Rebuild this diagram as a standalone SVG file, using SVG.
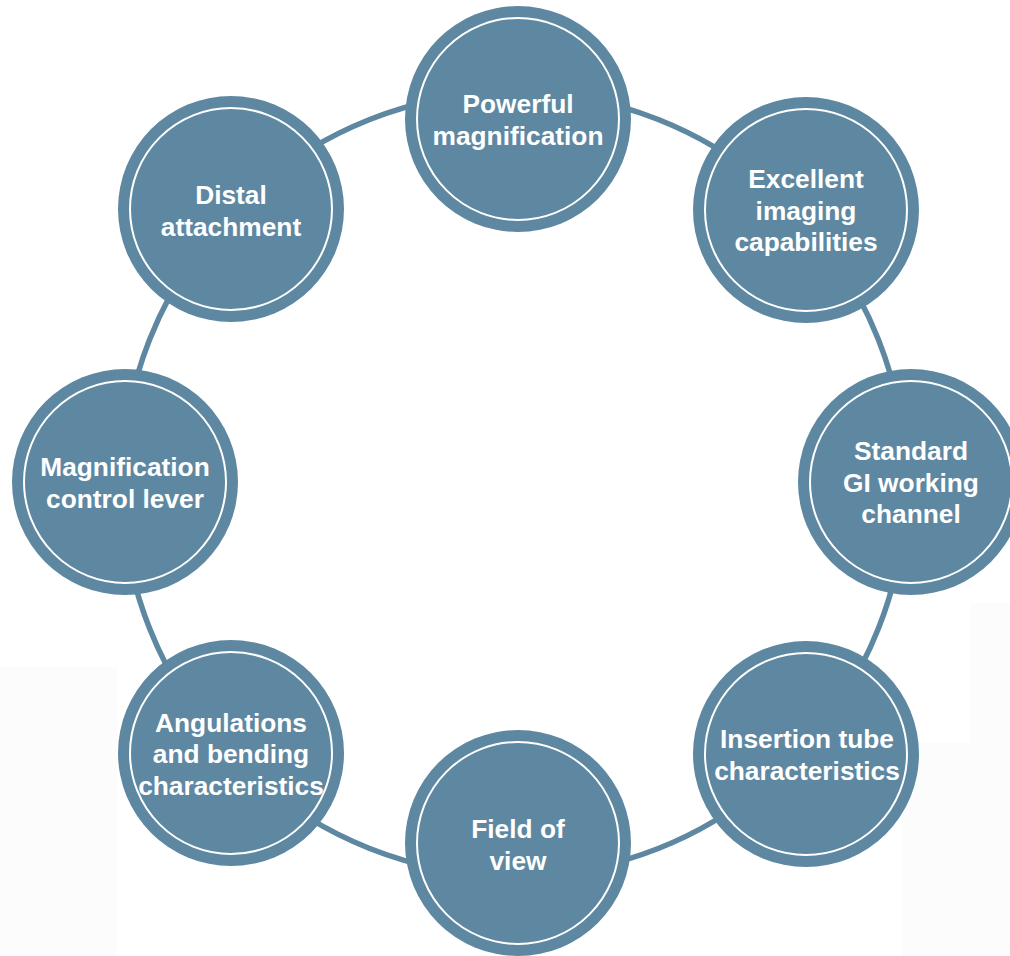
<svg xmlns="http://www.w3.org/2000/svg" width="1010" height="956" viewBox="0 0 1010 956">
  <style>
    .outer { fill: #5E88A1; }
    .inner { fill: none; stroke: #FFFFFF; stroke-width: 2; }
    .ring { fill: none; stroke: #5E88A1; stroke-width: 5.5; }
    .label { font-family: "Liberation Sans", Arial, sans-serif; font-weight: bold; font-size: 26.3px; fill: #FFFFFF; text-anchor: middle; }
    .bg { fill: #FCFCFC; }
  </style>
  <rect x="0" y="0" width="1010" height="956" fill="#FFFFFF"/>
  <rect class="bg" x="0" y="667" width="117" height="289"/>
  <rect class="bg" x="970" y="603" width="40" height="353"/>
  <rect class="bg" x="902" y="743" width="108" height="213"/>

  <g id="connectors">
    <circle class="ring" cx="514" cy="484" r="392"/>
  </g>

  <g id="node-powerful-magnification">
    <circle class="outer" cx="518" cy="119" r="113"/>
    <circle class="inner" cx="518" cy="119" r="101"/>
    <text class="label" x="518" y="113">Powerful</text>
    <text class="label" x="518" y="145">magnification</text>
  </g>

  <g id="node-excellent-imaging">
    <circle class="outer" cx="806" cy="210" r="113"/>
    <circle class="inner" cx="806" cy="210" r="101"/>
    <text class="label" x="806" y="188">Excellent</text>
    <text class="label" x="806" y="220">imaging</text>
    <text class="label" x="806" y="251">capabilities</text>
  </g>

  <g id="node-standard-gi">
    <circle class="outer" cx="911" cy="482" r="113"/>
    <circle class="inner" cx="911" cy="482" r="101"/>
    <text class="label" x="911" y="460">Standard</text>
    <text class="label" x="911" y="492">GI working</text>
    <text class="label" x="911" y="523">channel</text>
  </g>

  <g id="node-insertion-tube">
    <circle class="outer" cx="806" cy="754" r="113"/>
    <circle class="inner" cx="806" cy="754" r="101"/>
    <text class="label" x="807" y="748">Insertion tube</text>
    <text class="label" x="807" y="780">characteristics</text>
  </g>

  <g id="node-field-of-view">
    <circle class="outer" cx="518" cy="843" r="113"/>
    <circle class="inner" cx="518" cy="843" r="101"/>
    <text class="label" x="518" y="838">Field of</text>
    <text class="label" x="518" y="870">view</text>
  </g>

  <g id="node-angulations">
    <circle class="outer" cx="231" cy="753" r="113"/>
    <circle class="inner" cx="231" cy="753" r="101"/>
    <text class="label" x="231" y="732">Angulations</text>
    <text class="label" x="231" y="763">and bending</text>
    <text class="label" x="231" y="795">characteristics</text>
  </g>

  <g id="node-magnification-control">
    <circle class="outer" cx="125" cy="482" r="113"/>
    <circle class="inner" cx="125" cy="482" r="101"/>
    <text class="label" x="125" y="476">Magnification</text>
    <text class="label" x="125" y="508">control lever</text>
  </g>

  <g id="node-distal-attachment">
    <circle class="outer" cx="231" cy="209" r="113"/>
    <circle class="inner" cx="231" cy="209" r="101"/>
    <text class="label" x="231" y="204">Distal</text>
    <text class="label" x="231" y="236">attachment</text>
  </g>
</svg>
